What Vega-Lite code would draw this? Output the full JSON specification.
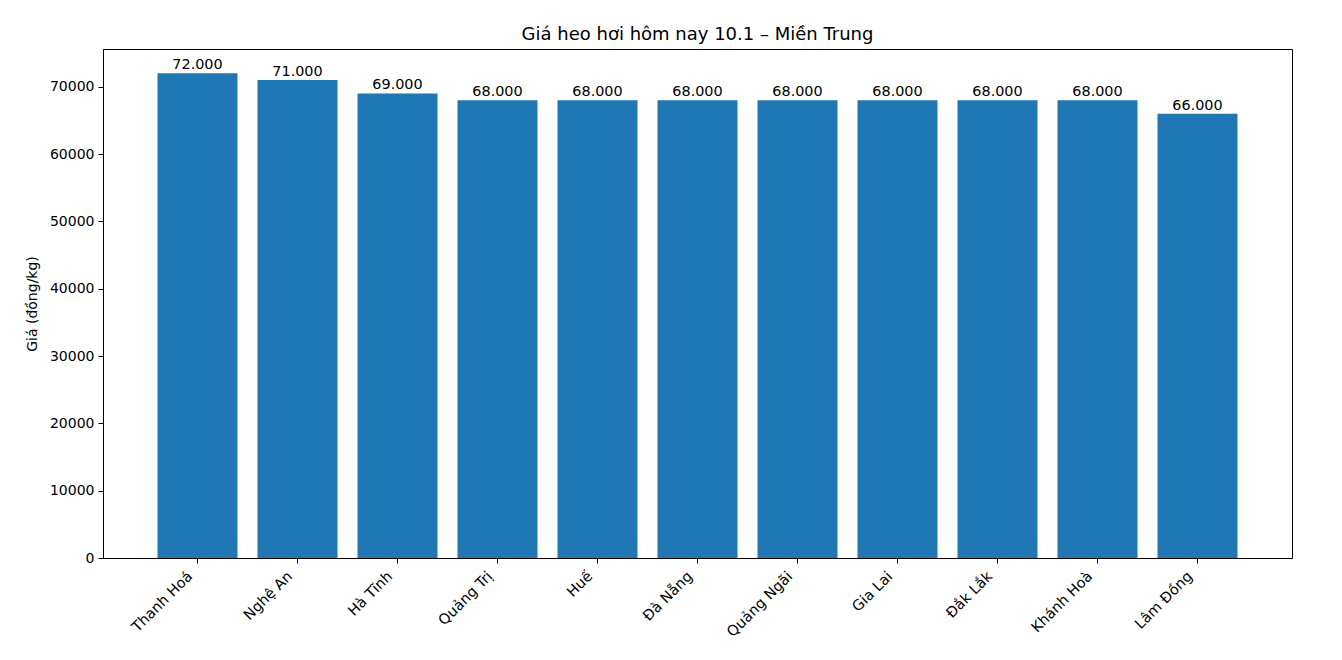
{
  "$schema": "https://vega.github.io/schema/vega-lite/v6.json",
  "width": 1189,
  "height": 509,
  "autosize": {"type": "none"},
  "padding": {"left": 103, "top": 49, "right": 50, "bottom": 102},
  "background": "white",
  "config": {
    "font": "DejaVu Sans",
    "view": {"stroke": "black", "strokeWidth": 1},
    "locale": {
      "number": {
        "decimal": ",",
        "thousands": ".",
        "grouping": [3],
        "currency": ["", " đ"]
      }
    }
  },
  "title": {
    "text": "Giá heo hơi hôm nay 10.1 – Miền Trung",
    "fontSize": 18,
    "fontWeight": "normal",
    "color": "black",
    "anchor": "middle",
    "offset": 5
  },
  "data": {
    "values": [
      {"tinh": "Thanh Hoá", "gia": 72000},
      {"tinh": "Nghệ An", "gia": 71000},
      {"tinh": "Hà Tĩnh", "gia": 69000},
      {"tinh": "Quảng Trị", "gia": 68000},
      {"tinh": "Huế", "gia": 68000},
      {"tinh": "Đà Nẵng", "gia": 68000},
      {"tinh": "Quảng Ngãi", "gia": 68000},
      {"tinh": "Gia Lai", "gia": 68000},
      {"tinh": "Đắk Lắk", "gia": 68000},
      {"tinh": "Khánh Hoà", "gia": 68000},
      {"tinh": "Lâm Đồng", "gia": 66000}
    ]
  },
  "encoding": {
    "x": {
      "field": "tinh",
      "type": "nominal",
      "sort": null,
      "scale": {"paddingInner": 0.2, "paddingOuter": 0.545},
      "axis": {
        "title": null,
        "labelAngle": -45,
        "labelAlign": "right",
        "labelBaseline": "top",
        "labelFontSize": 14.5,
        "labelColor": "black",
        "labelPadding": 6,
        "labelOffset": -12,
        "tickColor": "black",
        "tickSize": 5,
        "domainColor": "black",
        "grid": false
      }
    },
    "y": {
      "field": "gia",
      "type": "quantitative",
      "scale": {"domain": [0, 75600], "nice": false, "zero": true},
      "axis": {
        "title": "Giá (đồng/kg)",
        "titleFontSize": 14,
        "titleFontWeight": "normal",
        "titleColor": "black",
        "titlePadding": 10,
        "values": [0, 10000, 20000, 30000, 40000, 50000, 60000, 70000],
        "format": "d",
        "labelFontSize": 14,
        "labelColor": "black",
        "labelPadding": 4,
        "tickColor": "black",
        "tickSize": 5,
        "domainColor": "black",
        "grid": false
      }
    }
  },
  "layer": [
    {
      "mark": {"type": "bar", "color": "#1f77b4"}
    },
    {
      "mark": {
        "type": "text",
        "baseline": "bottom",
        "dy": -1,
        "fontSize": 14.4,
        "color": "black"
      },
      "encoding": {
        "text": {"field": "gia", "type": "quantitative", "format": ",d"}
      }
    }
  ]
}
